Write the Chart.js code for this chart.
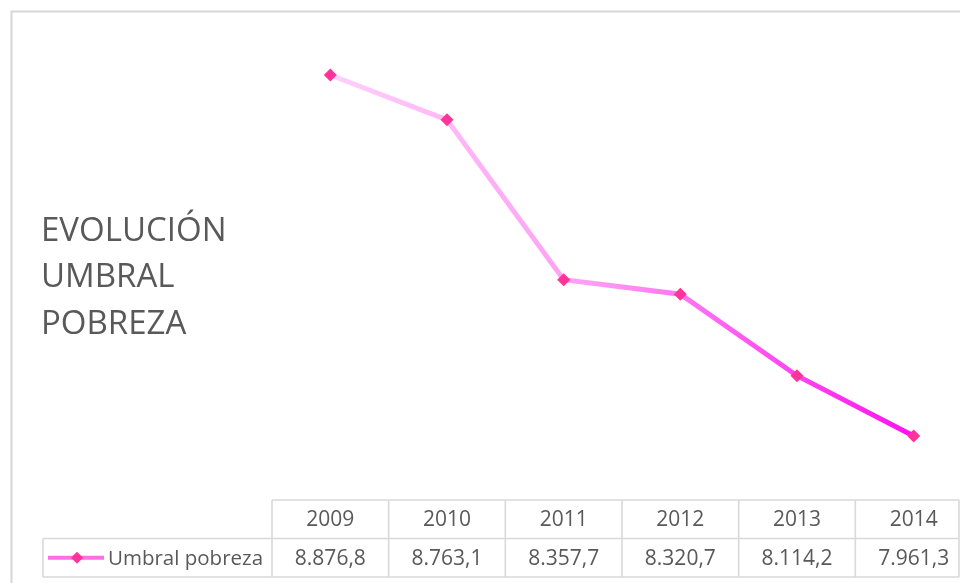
<!DOCTYPE html>
<html>
<head>
<meta charset="utf-8">
<script src="https://cdn.jsdelivr.net/npm/chart.js@4/dist/chart.umd.min.js"></script>
<style>
  html, body { margin: 0; padding: 0; background: #ffffff; overflow: hidden; width: 960px; height: 583px; }
  #wrap { position: absolute; left: 0; top: 0; width: 980px; height: 583px; }
  canvas { display: block; }
</style>
</head>
<body>
<div id="wrap"><canvas id="c" width="980" height="583"></canvas></div>
<script>
// ---- data ----
const years = ["2009", "2010", "2011", "2012", "2013", "2014"];
const umbral = [8876.8, 8763.1, 8357.7, 8320.7, 8114.2, 7961.3];
const umbralLabels = ["8.876,8", "8.763,1", "8.357,7", "8.320,7", "8.114,2", "7.961,3"];
const seriesName = "Umbral pobreza";
const titleLines = ["EVOLUCIÓN", "UMBRAL", "POBREZA"];

const TEXT = "#595959";
const GRID = "#d9d9d9";
const FONT = "'Open Sans', 'DejaVu Sans', sans-serif";

const decorPlugin = {
  id: "decor",
  beforeDraw(chart) {
    const ctx = chart.ctx;
    ctx.save();
    ctx.fillStyle = "#ffffff";
    ctx.fillRect(0, 0, chart.width, chart.height);
    // outer chart border (top and left visible)
    ctx.strokeStyle = "#d6d6d6";
    ctx.lineWidth = 2;
    ctx.beginPath();
    ctx.moveTo(11.5, chart.height);
    ctx.lineTo(11.5, 11.5);
    ctx.lineTo(chart.width, 11.5);
    ctx.stroke();
    // title
    ctx.fillStyle = TEXT;
    ctx.font = "33px " + FONT;
    ctx.textAlign = "left";
    ctx.textBaseline = "alphabetic";
    const baselines = [241, 287, 334];
    titleLines.forEach((t, i) => ctx.fillText(t, 41, baselines[i]));
    ctx.restore();
  },
  afterDraw(chart) {
    const ctx = chart.ctx;
    const xs = chart.scales.x;
    const n = years.length;
    const colW = xs.getPixelForValue(1) - xs.getPixelForValue(0);
    const left = xs.getPixelForValue(0) - colW / 2;
    const rightEdge = Math.min(left + n * colW, 959);
    const top = 500, mid = 538.5, bot = 577;
    const legendLeft = 43;
    ctx.save();
    ctx.strokeStyle = GRID;
    ctx.lineWidth = 1.6;
    ctx.beginPath();
    // horizontal lines
    ctx.moveTo(left, top); ctx.lineTo(rightEdge, top);
    ctx.moveTo(legendLeft, mid); ctx.lineTo(rightEdge, mid);
    ctx.moveTo(legendLeft, bot); ctx.lineTo(rightEdge, bot);
    // verticals
    ctx.moveTo(legendLeft, mid); ctx.lineTo(legendLeft, bot);
    for (let i = 0; i <= n; i++) {
      let x = left + i * colW;
      if (x > rightEdge) x = rightEdge;
      ctx.moveTo(x, top); ctx.lineTo(x, bot);
    }
    ctx.stroke();

    // texts
    ctx.fillStyle = TEXT;
    ctx.font = "21px " + FONT;
    ctx.textAlign = "center";
    ctx.textBaseline = "middle";
    for (let i = 0; i < n; i++) {
      const cx = xs.getPixelForValue(i);
      ctx.fillText(years[i], cx, (top + mid) / 2 + 1);
      ctx.fillText(umbralLabels[i], cx, (mid + bot) / 2 + 1);
    }
    // legend key
    const ly = (mid + bot) / 2;
    ctx.strokeStyle = "#ff6fe6";
    ctx.lineWidth = 4;
    ctx.beginPath();
    ctx.moveTo(48, ly); ctx.lineTo(104, ly);
    ctx.stroke();
    ctx.fillStyle = "#ff3399";
    ctx.beginPath();
    const r = 6, kx = 77;
    ctx.moveTo(kx, ly - r); ctx.lineTo(kx + r, ly); ctx.lineTo(kx, ly + r); ctx.lineTo(kx - r, ly);
    ctx.closePath();
    ctx.fill();
    ctx.fillStyle = TEXT;
    ctx.textAlign = "left";
    ctx.font = "20.5px " + FONT;
    ctx.fillText(seriesName, 108, ly + 1);
    ctx.restore();
  }
};

function lineGradient(context) {
  const chart = context.chart;
  const area = chart.chartArea;
  if (!area) return "#ff66ee";
  const xs = chart.scales.x;
  const x0 = xs.getPixelForValue(0), x1 = xs.getPixelForValue(years.length - 1);
  const g = chart.ctx.createLinearGradient(x0, 0, x1, 0);
  g.addColorStop(0, "#ffd0fb");
  g.addColorStop(0.45, "#ff9cf4");
  g.addColorStop(1, "#ff10f0");
  return g;
}

new Chart(document.getElementById("c"), {
  type: "line",
  data: {
    labels: years,
    datasets: [{
      label: seriesName,
      data: umbral,
      borderColor: lineGradient,
      borderWidth: 5,
      tension: 0,
      pointStyle: "rectRot",
      pointRadius: 6.5,
      pointHoverRadius: 6.5,
      pointBackgroundColor: "#ff3399",
      pointBorderColor: "#ff3399",
      pointBorderWidth: 0,
      fill: false
    }]
  },
  options: {
    responsive: false,
    devicePixelRatio: 1,
    animation: false,
    layout: { padding: { left: 272, right: 8, top: 26.4, bottom: 83.4 } },
    plugins: {
      legend: { display: false },
      title: { display: false },
      tooltip: { enabled: false }
    },
    scales: {
      x: { display: false, offset: true },
      y: { display: false, min: 7800, max: 9000 }
    }
  },
  plugins: [decorPlugin]
});
</script>
</body>
</html>
